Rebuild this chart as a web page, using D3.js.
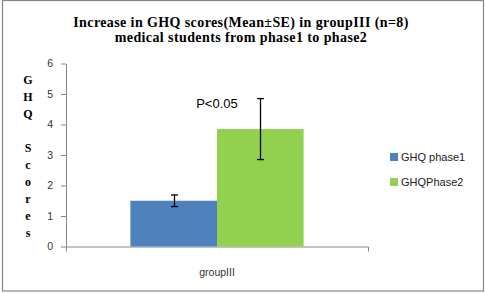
<!DOCTYPE html>
<html>
<head>
<meta charset="utf-8">
<script src="https://cdn.jsdelivr.net/npm/d3@7"></script>
<style>
  body { margin: 0; background: #fff; }
</style>
</head>
<body>
<div id="chart"></div>
<script>
// chart data
var categories = ["groupIII"]
var seriesNames = ["GHQ phase1", "GHQPhase2"]
var meanValues = [1.5, 3.85]
var seErrors = [0.19, 1.0]
var yTicks = [0, 1, 2, 3, 4, 5, 6]
var titleLines = ["Increase in GHQ scores(Mean\u00b1SE) in groupIII (n=8)", "medical students from phase1 to phase2"]
var yLabelLetters = ["G", "H", "Q", "", "S", "c", "o", "r", "e", "s"]
var pLabel = "P<0.05"

var width = 485,
    height = 293

var colors = ["#4F81BD", "#92D050"]

let svg = d3.select("#chart")
  .append("svg")
    .attr("width", width)
    .attr("height", height)

// outer frame
svg.append("rect")
  .attr("x", 2.5).attr("y", 0.5)
  .attr("width", 481).attr("height", 290.5)
  .attr("fill", "white")
  .attr("stroke", "#868686")
  .attr("stroke-width", 1.2)

// title
svg.append("g").selectAll("text")
  .data(titleLines)
  .enter()
  .append("text")
    .attr("x", 241)
    .attr("y", function(d, i) { return 27 + i * 15 })
    .attr("text-anchor", "middle")
    .style("font-family", "'Liberation Serif', 'Times New Roman', serif")
    .style("font-weight", "bold")
    .style("font-size", "14px")
    .style("letter-spacing", "0.4px")
    .text(function(d) { return d })

// scales
var x = d3.scaleBand()
  .domain(categories)
  .range([66, 368])
  .paddingInner(0.271)
  .paddingOuter(0.271)

var xSeries = d3.scaleBand()
  .domain(seriesNames)
  .range([0, x.bandwidth()])

var y = d3.scaleLinear()
  .domain([0, 6])
  .range([246.5, 63.5])

// axes
var yAxis = svg.append("g")
  .attr("transform", "translate(66,0)")
  .call(d3.axisLeft(y).tickValues(yTicks).tickFormat(d3.format("d")).tickSize(5).tickSizeOuter(0))
yAxis.selectAll("path, line").attr("stroke", "#868686")
yAxis.selectAll("text")
  .attr("x", -13)
  .style("font-family", "'Liberation Sans', Arial, sans-serif")
  .style("font-size", "10.5px")
  .attr("fill", "#333")

var xAxis = svg.append("g")
  .attr("transform", "translate(0," + y(0) + ")")
  .call(d3.axisBottom(x).tickSize(0).tickSizeOuter(5))
xAxis.selectAll("path, line").attr("stroke", "#868686")
xAxis.selectAll("text")
  .attr("y", 22)
  .style("font-family", "'Liberation Sans', Arial, sans-serif")
  .style("font-size", "10.5px")
  .attr("fill", "#333")

// bars
var bars = svg.append("g")
  .selectAll("rect")
  .data(seriesNames)
  .enter()
  .append("rect")
    .attr("x", function(d) { return x(categories[0]) + xSeries(d) })
    .attr("y", function(d, i) { return y(meanValues[i]) })
    .attr("width", xSeries.bandwidth())
    .attr("height", function(d, i) { return y(0) - y(meanValues[i]) })
    .attr("fill", function(d, i) { return colors[i] })

// error bars
var errs = svg.append("g")
  .selectAll("g")
  .data(seriesNames)
  .enter()
  .append("g")
    .attr("stroke", "black")
    .attr("stroke-width", 1.3)

errs.each(function(d, i) {
  var cx = Math.round(x(categories[0]) + xSeries(d) + xSeries.bandwidth() / 2) + 0.5
  var top = y(meanValues[i] + seErrors[i]),
      bot = y(meanValues[i] - seErrors[i])
  var g = d3.select(this)
  g.append("line").attr("x1", cx).attr("x2", cx).attr("y1", top).attr("y2", bot)
  g.append("line").attr("x1", cx - 3.5).attr("x2", cx + 3.5).attr("y1", top).attr("y2", top)
  g.append("line").attr("x1", cx - 3.5).attr("x2", cx + 3.5).attr("y1", bot).attr("y2", bot)
})

// significance label
svg.append("text")
  .attr("x", x(categories[0]) + x.bandwidth() / 2)
  .attr("y", y(4.55))
  .attr("text-anchor", "middle")
  .style("font-family", "'Liberation Sans', Arial, sans-serif")
  .style("font-size", "13px")
  .text(pLabel)

// vertical y label, one letter per line
svg.append("g").selectAll("text")
  .data(yLabelLetters)
  .enter()
  .append("text")
    .attr("x", 28)
    .attr("y", function(d, i) { return 84 + i * 17 })
    .attr("text-anchor", "middle")
    .style("font-family", "'Liberation Serif', 'Times New Roman', serif")
    .style("font-weight", "bold")
    .style("font-size", "12px")
    .text(function(d) { return d })

// legend
var legend = svg.append("g")
  .selectAll("g")
  .data(seriesNames)
  .enter()
  .append("g")
    .attr("transform", function(d, i) { return "translate(390," + (153 + i * 25) + ")" })

legend.append("rect")
  .attr("width", 8).attr("height", 8)
  .attr("fill", function(d, i) { return colors[i] })

legend.append("text")
  .attr("x", 11)
  .attr("y", 8)
  .style("font-family", "'Liberation Sans', Arial, sans-serif")
  .style("font-size", "11px")
  .attr("fill", "#222")
  .text(function(d) { return d })
</script>
</body>
</html>
